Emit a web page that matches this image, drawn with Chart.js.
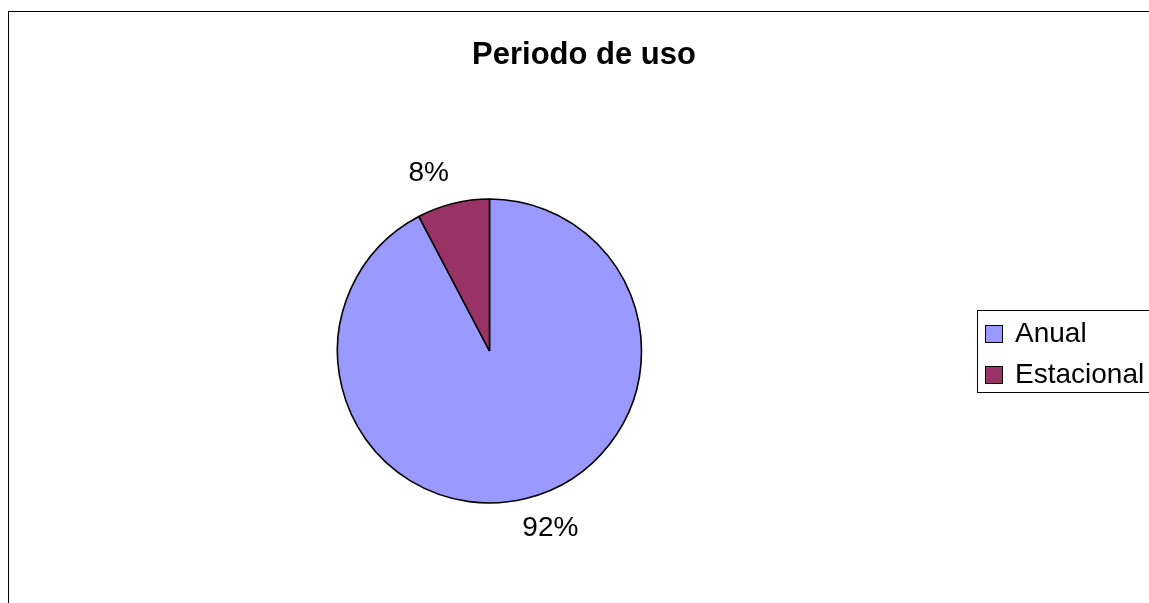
<!DOCTYPE html>
<html>
<head>
<meta charset="utf-8">
<title>Periodo de uso</title>
<script src="https://cdn.jsdelivr.net/npm/chart.js@4"></script>
<style>
    body { margin: 0; background: #ffffff; }
    #wrap { width: 1149px; height: 603px; }
</style>
</head>
<body>
<div id="wrap"><canvas id="usoChart" width="1149" height="603"></canvas></div>
<script>
// Chart data
const categories = ['Anual', 'Estacional'];
const shares = [92.3, 7.7];
const sliceColors = ['#9999FF', '#993366'];
const chartTitle = 'Periodo de uso';

const FONT = '"Liberation Sans", Arial, sans-serif';

// Frame, title and the legend box
const framePlugin = {
    id: 'frame',
    afterDraw(chart) {
        const ctx = chart.ctx;
        ctx.save();
        ctx.strokeStyle = '#000000';
        ctx.lineWidth = 1;
        ctx.strokeRect(8.5, 11.5, 1160, 620);

        ctx.fillStyle = '#000000';
        ctx.font = 'bold 31px ' + FONT;
        ctx.textAlign = 'center';
        ctx.textBaseline = 'alphabetic';
        ctx.fillText(chartTitle, 584, 64);

        // legend
        ctx.strokeRect(977.5, 310.5, 200, 82);
        ctx.font = '28px ' + FONT;
        ctx.textAlign = 'left';
        categories.forEach((name, i) => {
            const y = 325 + i * 41;
            ctx.fillStyle = sliceColors[i];
            ctx.fillRect(985, y, 18, 18);
            ctx.strokeRect(985.5, y + 0.5, 17, 17);
            ctx.fillStyle = '#000000';
            ctx.fillText(name, 1015, y + 17);
        });
        ctx.restore();
    }
};

// Percent labels outside each slice
const percentLabels = {
    id: 'percentLabels',
    afterDatasetsDraw(chart) {
        const ctx = chart.ctx;
        const meta = chart.getDatasetMeta(0);
        const total = shares.reduce((a, b) => a + b, 0);
        ctx.save();
        ctx.fillStyle = '#000000';
        ctx.font = '28px ' + FONT;
        ctx.textAlign = 'center';
        ctx.textBaseline = 'middle';
        meta.data.forEach((arc, i) => {
            const mid = (arc.startAngle + arc.endAngle) / 2;
            const dx = Math.cos(mid), dy = Math.sin(mid);
            const r = arc.outerRadius + 31;
            const x = arc.x + dx * r + Math.sign(dx) * 17;
            const y = arc.y + dy * r;
            ctx.fillText(Math.round(shares[i] / total * 100) + '%', x, y);
        });
        ctx.restore();
    }
};

new Chart(document.getElementById('usoChart').getContext('2d'), {
    type: 'pie',
    data: {
        labels: categories,
        datasets: [{
            data: shares,
            backgroundColor: sliceColors,
            borderColor: '#000000',
            borderWidth: 1.6,
            radius: 152,
            hoverOffset: 0
        }]
    },
    options: {
        responsive: false,
        animation: false,
        layout: {
            padding: { left: 300, right: 470, top: 150, bottom: 51 }
        },
        plugins: {
            legend: { display: false },
            title: { display: false },
            tooltip: { enabled: false }
        }
    },
    plugins: [percentLabels, framePlugin]
});
</script>
</body>
</html>
